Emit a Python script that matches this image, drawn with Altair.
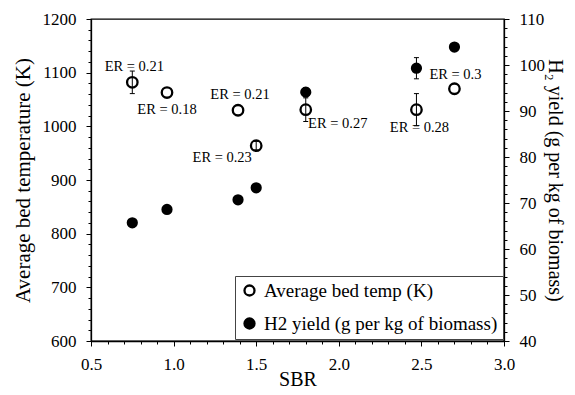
import altair as alt
import pandas as pd

# ---- data ----
sbr = [0.75, 0.96, 1.39, 1.50, 1.80, 2.47, 2.70]
temp = [1082, 1063, 1030, 964, 1031, 1031, 1070]
temp_err = [21, 0, 0, 8, 22, 30, 0]
h2 = [65.7, 68.6, 70.7, 73.3, 94.1, 99.3, 103.9]
h2_err = [0, 0, 0, 0, 1.0, 2.3, 0]
er_labels = ["ER = 0.21", "ER = 0.18", "ER = 0.21", "ER = 0.23", "ER = 0.27", "ER = 0.28", "ER = 0.3"]
series_names = ["Average bed temp (K)", "H2 yield (g per kg of biomass)"]

x_ticks = [round(0.5 + 0.1 * i, 1) for i in range(26)]
temp_ticks = list(range(600, 1201, 20))
h2_ticks = list(range(40, 111, 2))

# label offsets (pixels) relative to each open circle
label_dx = [2, 0, 2, -34, 32, 3, 1]
label_dy = [-15, 17, -15, 12, 14, 18, -14]

FONT = "Liberation Serif"

temp_df = pd.DataFrame({"sbr": sbr, "val": temp, "series": series_names[0]})
h2_df = pd.DataFrame({"sbr": sbr, "val": h2, "series": series_names[1]})
temp_err_df = pd.DataFrame({"sbr": sbr, "lo": [t - e for t, e in zip(temp, temp_err)],
                            "hi": [t + e for t, e in zip(temp, temp_err)], "e": temp_err})
temp_err_df = temp_err_df[temp_err_df.e > 0]
h2_err_df = pd.DataFrame({"sbr": sbr, "lo": [t - e for t, e in zip(h2, h2_err)],
                          "hi": [t + e for t, e in zip(h2, h2_err)], "e": h2_err})
h2_err_df = h2_err_df[h2_err_df.e > 0]

x_scale = alt.Scale(domain=[0.5, 3.0], nice=False, zero=False)
t_scale = alt.Scale(domain=[600, 1200], nice=False, zero=False)
h_scale = alt.Scale(domain=[40, 110], nice=False, zero=False)

common = dict(
    grid=False, labelOverlap=False, labelFlush=False,
    labelFont=FONT, titleFont=FONT, labelFontSize=17, titleFontSize=20,
    labelColor="black", titleColor="black", titleFontWeight="normal",
    domainColor="black", domainWidth=1.3, tickColor="black", tickWidth=1,
)

x_major = "abs(datum.value*2 - round(datum.value*2)) < 0.001"
x_axis = alt.Axis(
    values=x_ticks, title="SBR",
    labelExpr=f"{x_major} ? format(datum.value, '.1f') : ''",
    tickSize={"condition": {"test": x_major, "value": 5}, "value": 3},
    labelPadding=10, titlePadding=-3, **common,
)
t_axis = alt.Axis(
    values=temp_ticks, title="Average bed temperature (K)",
    labelExpr="datum.value % 100 === 0 ? format(datum.value, 'd') : ''",
    tickSize={"condition": {"test": "datum.value % 100 === 0", "value": 5}, "value": 3},
    labelPadding=10, titlePadding=9, **{**common, "titleFontSize": 21},
)
h_axis = alt.Axis(
    orient="right", values=h2_ticks, title="H₂ yield (g per kg of biomass)",
    labelExpr="datum.value % 10 === 0 ? format(datum.value, 'd') : ''",
    tickSize={"condition": {"test": "datum.value % 10 === 0", "value": 5}, "value": 3},
    labelPadding=10, titlePadding=0, **common,
)

fill_enc = alt.Fill(
    "series:N",
    scale=alt.Scale(domain=series_names, range=["transparent", "black"]),
    legend=alt.Legend(title=None),
)

X = lambda f: alt.X(f, type="quantitative", scale=x_scale, axis=x_axis)
YT = lambda f: alt.Y(f, type="quantitative", scale=t_scale, axis=t_axis)
YH = lambda f: alt.Y(f, type="quantitative", scale=h_scale, axis=h_axis)

# ---- temperature (left axis) ----
t_points = alt.Chart(temp_df).mark_point(
    shape="circle", filled=True, size=110, stroke="black", strokeWidth=2.3, opacity=1
).encode(x=X("sbr"), y=YT("val"), fill=fill_enc)
t_err = alt.Chart(temp_err_df).mark_rule(color="black", strokeWidth=1).encode(
    x=X("sbr"), y=YT("lo"), y2="hi:Q",
)
t_cap_hi = alt.Chart(temp_err_df).mark_rule(color="black", strokeWidth=1, xOffset=-2.5, x2Offset=2.5).encode(
    x=X("sbr"), x2="sbr:Q", y=YT("hi"),
)
t_cap_lo = alt.Chart(temp_err_df).mark_rule(color="black", strokeWidth=1, xOffset=-2.5, x2Offset=2.5).encode(
    x=X("sbr"), x2="sbr:Q", y=YT("lo"),
)
texts = []
for i in range(len(sbr)):
    row = pd.DataFrame({"sbr": [sbr[i]], "val": [temp[i]], "lab": [er_labels[i]]})
    texts.append(
        alt.Chart(row).mark_text(
            font=FONT, fontSize=14.5, color="black", align="center", baseline="middle",
            dx=label_dx[i], dy=label_dy[i],
        ).encode(x=X("sbr"), y=YT("val"), text="lab:N")
    )

left = alt.layer(t_points, t_err, t_cap_hi, t_cap_lo, *texts)

# ---- H2 yield (right axis) ----
h_points = alt.Chart(h2_df).mark_point(
    shape="circle", filled=True, size=85, stroke="black", strokeWidth=2, opacity=1
).encode(x=X("sbr"), y=YH("val"), fill=fill_enc)
h_err = alt.Chart(h2_err_df).mark_rule(color="black", strokeWidth=1).encode(
    x=X("sbr"), y=YH("lo"), y2="hi:Q",
)
h_cap_hi = alt.Chart(h2_err_df).mark_rule(color="black", strokeWidth=1, xOffset=-2.5, x2Offset=2.5).encode(
    x=X("sbr"), x2="sbr:Q", y=YH("hi"),
)
h_cap_lo = alt.Chart(h2_err_df).mark_rule(color="black", strokeWidth=1, xOffset=-2.5, x2Offset=2.5).encode(
    x=X("sbr"), x2="sbr:Q", y=YH("lo"),
)

right = alt.layer(h_points, h_err, h_cap_hi, h_cap_lo)

chart = alt.layer(left, right).resolve_scale(y="independent").properties(
    width=413, height=322,
    padding={"left": 4, "top": 2, "right": 1, "bottom": 0},
    background="white",
).configure(
    font=FONT,
    style={
        "guide-label": {"font": FONT, "fill": "black"},
        "guide-title": {"font": FONT, "fill": "black", "fontWeight": "normal"},
    },
).configure_view(
    stroke="black", strokeWidth=1.3,
).configure_axis(
    labelFont=FONT, titleFont=FONT,
).configure_legend(
    orient="none", legendX=144, legendY=257,
    strokeColor="#444", fillColor="white", padding=5,
    labelFont=FONT, labelFontSize=19, labelColor="black",
    symbolType="circle", symbolSize=100, symbolStrokeColor="black", symbolStrokeWidth=2.3,
    rowPadding=12, labelOffset=5, labelLimit=400,
)

chart.save("out.html", embed_options={"renderer": "svg", "actions": False})
